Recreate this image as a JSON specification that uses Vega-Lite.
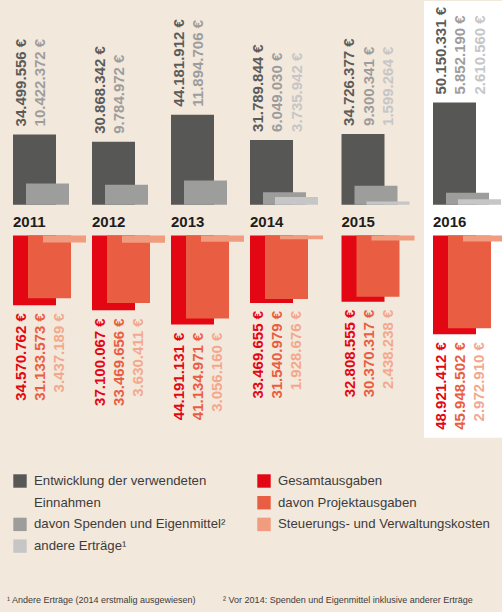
{
  "$schema": "https://vega.github.io/schema/vega-lite/v6.json",
  "autosize": {"type": "fit", "contains": "padding"},
  "width": 502,
  "height": 612,
  "padding": 0,
  "background": "#f3e8dc",
  "config": {
    "view": {"stroke": null},
    "locale": {"number": {"decimal": ",", "thousands": ".", "grouping": [3], "currency": ["", " €"]}}
  },
  "title": {
    "text": "¹ Andere Erträge (2014 erstmalig ausgewiesen)\u00a0\u00a0\u00a0\u00a0\u00a0\u00a0\u00a0\u00a0\u00a0\u00a0\u00a0² Vor 2014: Spenden und Eigenmittel inklusive anderer Erträge",
    "orient": "bottom",
    "anchor": "start",
    "frame": "group",
    "offset": -16,
    "dx": 7,
    "font": "Liberation Sans",
    "fontSize": 9,
    "fontWeight": "normal",
    "color": "#3c3c3b"
  },
  "data": {
    "values": [
      {"year": 2011, "group": "in", "series": "einnahmen", "value": 34499556},
      {"year": 2011, "group": "in", "series": "spenden", "value": 10422372},
      {"year": 2012, "group": "in", "series": "einnahmen", "value": 30868342},
      {"year": 2012, "group": "in", "series": "spenden", "value": 9784972},
      {"year": 2013, "group": "in", "series": "einnahmen", "value": 44181912},
      {"year": 2013, "group": "in", "series": "spenden", "value": 11894706},
      {"year": 2014, "group": "in", "series": "einnahmen", "value": 31789844},
      {"year": 2014, "group": "in", "series": "spenden", "value": 6049030},
      {"year": 2014, "group": "in", "series": "andere", "value": 3735942},
      {"year": 2015, "group": "in", "series": "einnahmen", "value": 34726377},
      {"year": 2015, "group": "in", "series": "spenden", "value": 9300341},
      {"year": 2015, "group": "in", "series": "andere", "value": 1599264},
      {"year": 2016, "group": "in", "series": "einnahmen", "value": 50150331},
      {"year": 2016, "group": "in", "series": "spenden", "value": 5852190},
      {"year": 2016, "group": "in", "series": "andere", "value": 2610560},
      {"year": 2011, "group": "out", "series": "gesamt", "value": 34570762},
      {"year": 2011, "group": "out", "series": "projekt", "value": 31133573},
      {"year": 2011, "group": "out", "series": "verwaltung", "value": 3437189},
      {"year": 2012, "group": "out", "series": "gesamt", "value": 37100067},
      {"year": 2012, "group": "out", "series": "projekt", "value": 33469656},
      {"year": 2012, "group": "out", "series": "verwaltung", "value": 3630411},
      {"year": 2013, "group": "out", "series": "gesamt", "value": 44191131},
      {"year": 2013, "group": "out", "series": "projekt", "value": 41134971},
      {"year": 2013, "group": "out", "series": "verwaltung", "value": 3056160},
      {"year": 2014, "group": "out", "series": "gesamt", "value": 33469655},
      {"year": 2014, "group": "out", "series": "projekt", "value": 31540979},
      {"year": 2014, "group": "out", "series": "verwaltung", "value": 1928676},
      {"year": 2015, "group": "out", "series": "gesamt", "value": 32808555},
      {"year": 2015, "group": "out", "series": "projekt", "value": 30370317},
      {"year": 2015, "group": "out", "series": "verwaltung", "value": 2438238},
      {"year": 2016, "group": "out", "series": "gesamt", "value": 48921412},
      {"year": 2016, "group": "out", "series": "projekt", "value": 45948502},
      {"year": 2016, "group": "out", "series": "verwaltung", "value": 2972910}
    ]
  },
  "transform": [
    {"joinaggregate": [{"op": "max", "field": "value", "as": "top"}], "groupby": ["year", "group"]}
  ],
  "encoding": {
    "x": {"field": "year", "type": "quantitative", "scale": {"domain": [2011, 2014, 2016], "range": [13, 250, 433], "nice": false, "zero": false, "padding": 0}, "axis": null}
  },
  "layer": [
    {
      "layer": [
        {
          "transform": [{"filter": "datum.year == 2016 && datum.series == 'einnahmen'"}],
          "mark": {"type": "bar", "color": "#ffffff", "width": 78, "xOffset": 30},
          "encoding": {
            "y": {"datum": 100000000, "type": "quantitative", "scale": {"domain": [-200000000, 98536585], "nice": false, "zero": false}, "axis": null},
            "y2": {"datum": -114500000}
          }
        },
        {
          "transform": [{"filter": "datum.series == 'einnahmen'"}],
          "mark": {"type": "bar", "width": 43, "xOffset": 21.5},
          "encoding": {
            "y": {"field": "value", "type": "quantitative", "scale": {"domain": [-200000000, 98536585], "nice": false, "zero": false}, "axis": null},
            "color": {"field": "series", "type": "nominal",
              "scale": {"domain": ["einnahmen", "_einnahmen2", "spenden", "andere"], "range": ["#575756", "rgba(0,0,0,0)", "#9d9d9c", "#c6c6c6"]},
              "legend": {"orient": "none", "legendX": 13, "legendY": 470, "direction": "vertical", "title": null, "padding": 0,
                "symbolType": "square", "symbolSize": 180, "symbolStrokeWidth": 0, "labelOffset": 7, "rowPadding": 7.7, "labelLimit": 300,
                "labelFont": "Liberation Sans", "labelFontSize": 13.2, "labelColor": "#3c3c3b",
                "labelExpr": "datum.value == 'einnahmen' ? 'Entwicklung der verwendeten' : datum.value == '_einnahmen2' ? 'Einnahmen' : datum.value == 'spenden' ? 'davon Spenden und Eigenmittel²' : 'andere Erträge¹'"}
            }
          }
        },
        {
          "transform": [{"filter": "datum.series == 'spenden'"}],
          "mark": {"type": "bar", "width": 43, "xOffset": 34.5},
          "encoding": {
            "y": {"field": "value", "type": "quantitative", "scale": {"domain": [-200000000, 98536585], "nice": false, "zero": false}, "axis": null},
            "color": {"field": "series", "type": "nominal"}
          }
        },
        {
          "transform": [{"filter": "datum.series == 'andere'"}],
          "mark": {"type": "bar", "width": 43, "xOffset": 46.5},
          "encoding": {
            "y": {"field": "value", "type": "quantitative", "scale": {"domain": [-200000000, 98536585], "nice": false, "zero": false}, "axis": null},
            "color": {"field": "series", "type": "nominal"}
          }
        },
        {
          "transform": [{"filter": "datum.series == 'einnahmen'"}],
          "mark": {"type": "text", "angle": 270, "align": "left", "baseline": "alphabetic", "xOffset": 12.5, "dx": 8, "font": "Liberation Sans", "fontSize": 15, "fontWeight": "bold", "color": "#5b5b5a"},
          "encoding": {
            "y": {"field": "top", "type": "quantitative", "scale": {"domain": [-200000000, 98536585], "nice": false, "zero": false}, "axis": null},
            "text": {"field": "value", "type": "quantitative", "format": "$,.0f"}
          }
        },
        {
          "transform": [{"filter": "datum.series == 'spenden'"}],
          "mark": {"type": "text", "angle": 270, "align": "left", "baseline": "alphabetic", "xOffset": 32, "dx": 8, "font": "Liberation Sans", "fontSize": 15, "fontWeight": "bold", "color": "#9d9d9c"},
          "encoding": {
            "y": {"field": "top", "type": "quantitative", "scale": {"domain": [-200000000, 98536585], "nice": false, "zero": false}, "axis": null},
            "text": {"field": "value", "type": "quantitative", "format": "$,.0f"}
          }
        },
        {
          "transform": [{"filter": "datum.series == 'andere'"}],
          "mark": {"type": "text", "angle": 270, "align": "left", "baseline": "alphabetic", "xOffset": 51.5, "dx": 8, "font": "Liberation Sans", "fontSize": 15, "fontWeight": "bold", "color": "#c6c6c6"},
          "encoding": {
            "y": {"field": "top", "type": "quantitative", "scale": {"domain": [-200000000, 98536585], "nice": false, "zero": false}, "axis": null},
            "text": {"field": "value", "type": "quantitative", "format": "$,.0f"}
          }
        },
        {
          "transform": [{"filter": "datum.series == 'einnahmen'"}],
          "mark": {"type": "text", "align": "left", "baseline": "alphabetic", "dy": 22, "font": "Liberation Sans", "fontSize": 15, "fontWeight": "bold", "color": "#1d1d1b"},
          "encoding": {
            "y": {"datum": 0, "type": "quantitative", "scale": {"domain": [-200000000, 98536585], "nice": false, "zero": false}, "axis": null},
            "text": {"field": "year", "type": "nominal"}
          }
        }
      ]
    },
    {
      "layer": [
        {
          "transform": [{"filter": "datum.series == 'gesamt'"}],
          "mark": {"type": "bar", "width": 43, "xOffset": 21.5},
          "encoding": {
            "y": {"field": "value", "type": "quantitative", "scale": {"domain": [-114778325, 186699507], "reverse": true, "nice": false, "zero": false}, "axis": null},
            "color": {"field": "series", "type": "nominal",
              "scale": {"domain": ["gesamt", "projekt", "verwaltung"], "range": ["#e30613", "#e95e43", "#f19b7f"]},
              "legend": {"orient": "none", "legendX": 257, "legendY": 470, "direction": "vertical", "title": null, "padding": 0,
                "symbolType": "square", "symbolSize": 180, "symbolStrokeWidth": 0, "labelOffset": 7, "rowPadding": 7.7, "labelLimit": 300,
                "labelFont": "Liberation Sans", "labelFontSize": 13.2, "labelColor": "#3c3c3b",
                "labelExpr": "datum.value == 'gesamt' ? 'Gesamtausgaben' : datum.value == 'projekt' ? 'davon Projektausgaben' : 'Steuerungs- und Verwaltungskosten'"}
            }
          }
        },
        {
          "transform": [{"filter": "datum.series == 'projekt'"}],
          "mark": {"type": "bar", "width": 43, "xOffset": 36.5},
          "encoding": {
            "y": {"field": "value", "type": "quantitative", "scale": {"domain": [-114778325, 186699507], "reverse": true, "nice": false, "zero": false}, "axis": null},
            "color": {"field": "series", "type": "nominal"}
          }
        },
        {
          "transform": [{"filter": "datum.series == 'verwaltung'"}],
          "mark": {"type": "bar", "width": 43, "xOffset": 51.5},
          "encoding": {
            "y": {"field": "value", "type": "quantitative", "scale": {"domain": [-114778325, 186699507], "reverse": true, "nice": false, "zero": false}, "axis": null},
            "color": {"field": "series", "type": "nominal"}
          }
        },
        {
          "transform": [{"filter": "datum.series == 'gesamt'"}],
          "mark": {"type": "text", "angle": 270, "align": "right", "baseline": "alphabetic", "xOffset": 13, "dx": -8, "font": "Liberation Sans", "fontSize": 15, "fontWeight": "bold", "color": "#e30613"},
          "encoding": {
            "y": {"field": "top", "type": "quantitative", "scale": {"domain": [-114778325, 186699507], "reverse": true, "nice": false, "zero": false}, "axis": null},
            "text": {"field": "value", "type": "quantitative", "format": "$,.0f"}
          }
        },
        {
          "transform": [{"filter": "datum.series == 'projekt'"}],
          "mark": {"type": "text", "angle": 270, "align": "right", "baseline": "alphabetic", "xOffset": 32, "dx": -8, "font": "Liberation Sans", "fontSize": 15, "fontWeight": "bold", "color": "#e95e43"},
          "encoding": {
            "y": {"field": "top", "type": "quantitative", "scale": {"domain": [-114778325, 186699507], "reverse": true, "nice": false, "zero": false}, "axis": null},
            "text": {"field": "value", "type": "quantitative", "format": "$,.0f"}
          }
        },
        {
          "transform": [{"filter": "datum.series == 'verwaltung'"}],
          "mark": {"type": "text", "angle": 270, "align": "right", "baseline": "alphabetic", "xOffset": 51.3, "dx": -8, "font": "Liberation Sans", "fontSize": 15, "fontWeight": "bold", "color": "#f3a88e"},
          "encoding": {
            "y": {"field": "top", "type": "quantitative", "scale": {"domain": [-114778325, 186699507], "reverse": true, "nice": false, "zero": false}, "axis": null},
            "text": {"field": "value", "type": "quantitative", "format": "$,.0f"}
          }
        }
      ]
    }
  ],
  "resolve": {"scale": {"y": "independent", "color": "independent"}, "legend": {"color": "independent"}}
}
